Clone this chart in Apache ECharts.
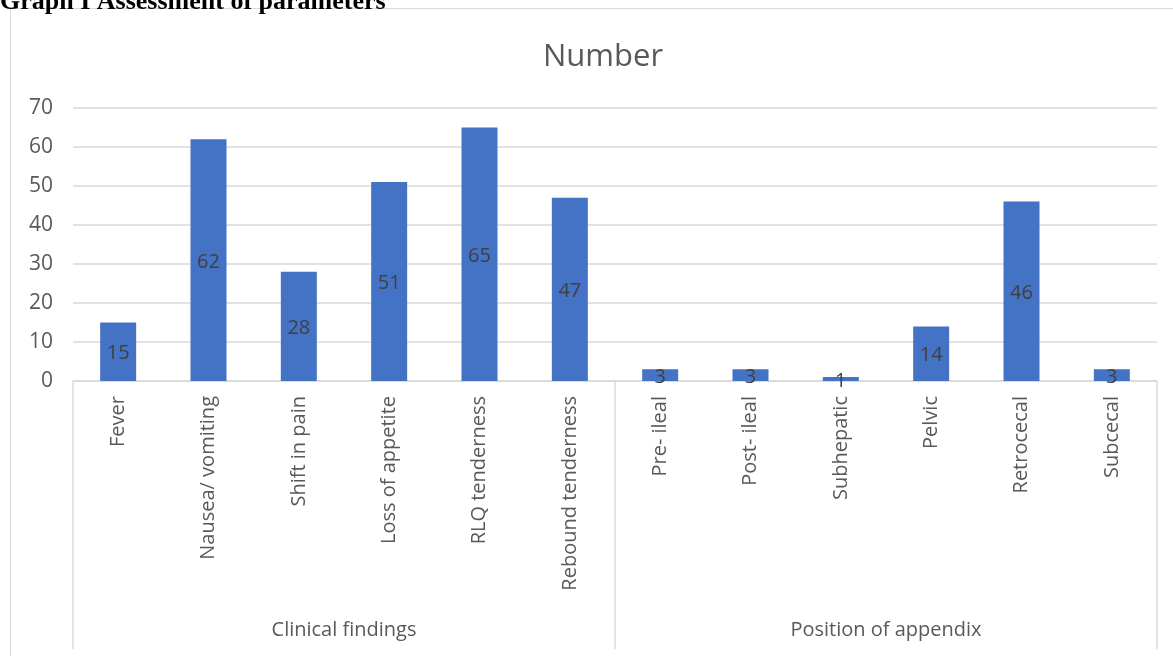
<!DOCTYPE html>
<html>
<head>
<meta charset="utf-8">
<script src="https://cdn.jsdelivr.net/npm/echarts@6/dist/echarts.min.js"></script>
<style>
  html, body { margin: 0; padding: 0; background: #ffffff; }
  #chart { width: 1173px; height: 656px; }
</style>
</head>
<body>
<div id="chart"></div>
<script>
// Categories, grouped into two sections along the x axis
const categories = [
  'Fever', 'Nausea/ vomiting', 'Shift in pain', 'Loss of appetite',
  'RLQ tenderness', 'Rebound tenderness',
  'Pre- ileal', 'Post- ileal', 'Subhepatic', 'Pelvic', 'Retrocecal', 'Subcecal'
];
const groups = ['Clinical findings', 'Position of appendix'];
const numbers = [15, 62, 28, 51, 65, 47, 3, 3, 1, 14, 46, 3];
const yTicks = [0, 10, 20, 30, 40, 50, 60, 70];

const FONT = '"Open Sans", "Noto Sans", sans-serif';
const GREY = '#595959';
const LINE = '#d9d9d9';

const chart = echarts.init(document.getElementById('chart'), null, { renderer: 'canvas' });

chart.setOption({
  animation: false,
  backgroundColor: '#ffffff',
  title: {
    text: 'Number',
    left: 598,
    top: 37,
    textAlign: 'center',
    textStyle: { fontFamily: FONT, fontSize: 31, fontWeight: 'normal', color: GREY }
  },
  graphic: [
    {
      type: 'rect',
      shape: { x: 10.5, y: 8.5, width: 1200, height: 700 },
      style: { fill: 'none', stroke: LINE, lineWidth: 1 },
      silent: true
    },
    {
      type: 'text',
      left: 0,
      top: -11,
      style: {
        text: 'Graph I Assessment of parameters',
        font: 'bold 26px "Liberation Serif", "DejaVu Serif", serif',
        fill: '#000000'
      },
      silent: true
    }
  ],
  grid: { left: 73, right: 16, top: 108, bottom: 275, containLabel: false },
  xAxis: [
    {
      type: 'category',
      data: categories,
      position: 'bottom',
      axisLine: { show: true, lineStyle: { color: LINE, width: 1.5 } },
      axisTick: { show: false },
      axisLabel: {
        rotate: 90,
        margin: 15,
        interval: 0,
        fontFamily: FONT,
        fontSize: 20,
        color: GREY
      }
    },
    {
      type: 'category',
      data: groups,
      position: 'bottom',
      offset: 0,
      axisLine: { show: false },
      axisTick: { show: true, length: 268, lineStyle: { color: LINE, width: 1.5 } },
      axisLabel: {
        margin: 239,
        interval: 0,
        fontFamily: FONT,
        fontSize: 20,
        color: GREY
      }
    }
  ],
  yAxis: {
    type: 'value',
    min: yTicks[0],
    max: yTicks[yTicks.length - 1],
    interval: 10,
    axisLine: { show: false },
    axisTick: { show: false },
    splitLine: { lineStyle: { color: LINE, width: 1.5 } },
    axisLabel: { margin: 20, padding: [4, 0, 0, 0], fontFamily: FONT, fontSize: 21, color: GREY }
  },
  series: [
    {
      type: 'bar',
      xAxisIndex: 0,
      data: numbers,
      barWidth: 36,
      itemStyle: { color: '#4472c4' },
      label: {
        show: true,
        position: 'inside',
        offset: [0, 2],
        fontFamily: FONT,
        fontSize: 20,
        color: '#404040'
      }
    }
  ]
});
</script>
</body>
</html>
